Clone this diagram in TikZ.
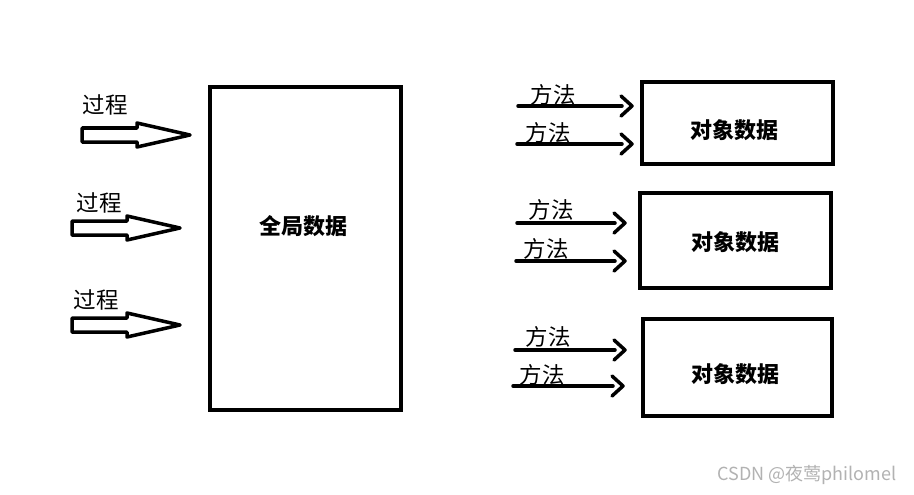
\documentclass[tikz,border=0pt]{standalone}
\usepackage{fontspec}
\usetikzlibrary{calc}
\newfontfamily\cjk{Noto Sans CJK SC}
\begin{document}
\begin{tikzpicture}[x=1pt,y=-1pt,
  box/.style={draw=black,line width=3.5pt,inner sep=0pt},
  lbl/.style={font=\cjk\fontsize{22.5}{26}\selectfont,inner sep=0pt},
  blbl/.style={font=\cjk\bfseries\fontsize{22}{26}\selectfont,inner sep=0pt},
  hollow/.style={draw=black,line width=3.5pt,line join=round,fill=white},
  meth/.style={draw=black,line width=3.5pt,line cap=round,line join=round}]
\useasboundingbox[fill=white] (0,0) rectangle (914,495);
% global data
\node[box,minimum width=191pt,minimum height=323pt] (g) at (305.5,248.5) {};
\node[blbl] (gl) at (303,226) {全局数据};
% process arrows
\foreach \i/\sx/\sy/\tx/\lx/\ly in {1/82/135/190/105/105, 2/72/228/180/99/203, 3/72/325/180/96/300}{
  \coordinate (ps\i) at (\sx,\sy);
  \coordinate (pt\i) at (\tx,\sy);
  \draw[hollow] ($(ps\i)+(0,-7)$) -- ($(pt\i)+(-53,-7)$) -- ($(pt\i)+(-53,-12)$) -- (pt\i)
     -- ($(pt\i)+(-53,12)$) -- ($(pt\i)+(-53,7)$) -- ($(ps\i)+(0,7)$) -- cycle;
  \node[lbl] (pl\i) at (\lx,\ly) {过程};
}
% object boxes
\node[box,minimum width=191pt,minimum height=82pt] (o1) at (737.5,123) {};
\node[box,minimum width=191pt,minimum height=95pt] (o2) at (735.5,240.5) {};
\node[box,minimum width=189pt,minimum height=97pt] (o3) at (737.5,367.5) {};
\node[blbl] (ol1) at (734,130) {对象数据};
\node[blbl] (ol2) at (735,242) {对象数据};
\node[blbl] (ol3) at (735,374) {对象数据};
% method arrows
\foreach \n/\sx/\sy/\tx/\lx/\ly in {a/518/106/632/553/95, b/517/144/632/548/133,
   c/517/223/625/551/210, d/516/261/625/546/249,
   e/515/350/625/548/337, f/513/386/623/542/375}{
  \coordinate (ms\n) at (\sx,\sy);
  \coordinate (mt\n) at (\tx,\sy);
  \draw[meth] (ms\n) -- ($(mt\n)+(-10,0)$);
  \draw[meth] ($(mt\n)+(-11,-10)$) -- (mt\n) -- ($(mt\n)+(-11,10)$);
  \node[lbl] (ml\n) at (\lx,\ly) {方法};
}
\node[font=\cjk\fontsize{18}{21}\selectfont,text=black!30,inner sep=0pt] (wm) at (807,475) {CSDN @夜莺philomel};
\end{tikzpicture}
\end{document}
